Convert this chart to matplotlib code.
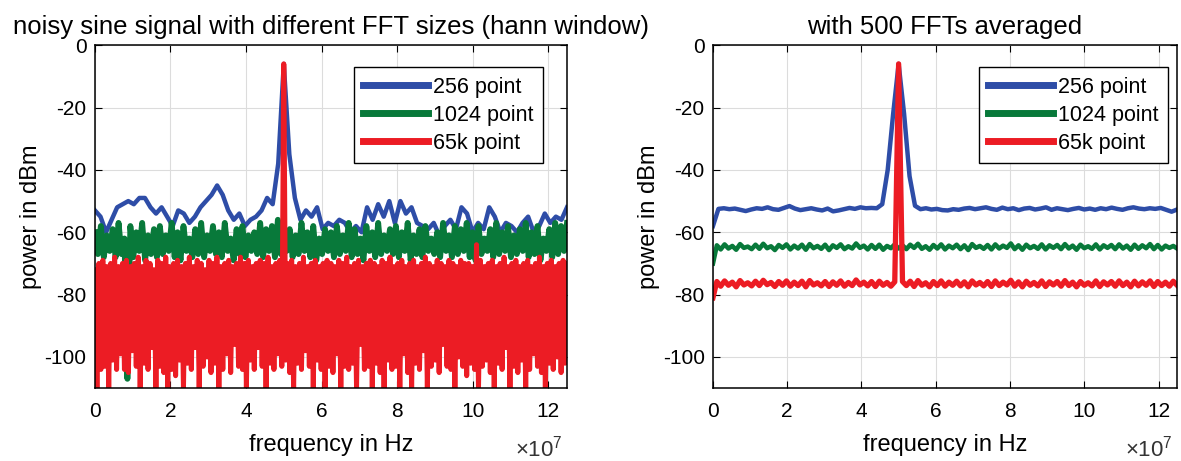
import numpy as np
import matplotlib
matplotlib.use("Agg")
from matplotlib import pyplot as plt

plt.rcParams['font.family'] = ['Liberation Sans', 'DejaVu Sans']
plt.rcParams['mathtext.fontset'] = 'custom'
plt.rcParams['mathtext.rm'] = 'Liberation Sans'
plt.rcParams['axes.unicode_minus'] = False

# colours of the three FFT sizes
c_blue = '#2E4DA7'
c_green = '#08793A'
c_red = '#EC1C24'
labels = ['256 point', '1024 point', '65k point']

# ---- left panel: single FFT (values in dBm) ----
blue_left = [-53, -55, -60, -56, -52, -51, -50, -51, -49, -49,
             -52, -54, -52, -55, -58, -53, -54, -57, -55, -52,
             -50, -48, -45, -48, -53, -56, -54, -58, -56, -55,
             -53, -49, -51, -38, -6, -35, -49, -56, -53, -55,
             -52, -59, -57, -58, -56, -57, -60, -58, -60, -52,
             -56, -51, -55, -50, -57, -50, -54, -52, -57, -58,
             -59, -57, -61, -58, -56, -59, -52, -54, -60, -57,
             -59, -52, -55, -60, -57, -58, -60, -57, -55, -60,
             -58, -54, -57, -55, -56, -52]

green_left = [-60, -67, -58, -68, -61, -66, -59, -68, -57, -67, -62, -107, -58, -68, -60, -66, -57, -69, -61, -67,
              -59, -68, -58, -67, -61, -66, -57, -68, -60, -69, -58, -66, -62, -68, -59, -67, -57, -68, -61, -66,
              -58, -67, -60, -68, -57, -66, -62, -69, -59, -67, -58, -68, -61, -66, -60, -67, -57, -68, -59, -66,
              -58, -68, -56, -67, -60, -66, -59, -68, -61, -67, -57, -66, -60, -68, -58, -69, -62, -67, -59, -66,
              -60, -68, -58, -67, -61, -66, -57, -68, -59, -67, -62, -69, -58, -66, -60, -68, -57, -67, -61, -66,
              -59, -67, -58, -68, -60, -66, -57, -69, -61, -67, -59, -68, -58, -66, -62, -67, -60, -68, -57, -66,
              -61, -68, -58, -67, -59, -66, -57, -68, -60, -69, -58, -67, -62, -66, -59, -68, -57, -67, -60, -66,
              -58, -68, -61, -67, -59, -66, -57, -68, -60, -67, -58, -69, -62, -66, -59, -68, -57, -67, -58, -66,
              -57]

red_left = [-72, -110, -70, -104, -69, -103, -71, -110, -70, -101, -68, -104, -71, -99, -70, -104, -69, -105, -71, -98,
            -70, -103, -68, -110, -71, -102, -69, -104, -70, -97, -72, -110, -69, -103, -70, -105, -68, -110, -71, -104,
            -70, -106, -69, -101, -71, -110, -70, -102, -68, -104, -71, -97, -69, -110, -70, -103, -72, -100, -69, -105,
            -70, -102, -68, -110, -71, -104, -70, -99, -69, -105, -71, -96, -70, -103, -68, -104, -70, -110, -69, -101,
            -71, -104, -70, -97, -69, -103, -70, -110, -68, -102, -71, -104, -70, -99, -69, -103, -6, -101, -70, -105,
            -69, -110, -71, -102, -70, -104, -68, -98, -71, -103, -70, -110, -69, -101, -71, -104, -70, -110, -69, -103,
            -70, -105, -71, -99, -69, -110, -70, -103, -68, -104, -71, -102, -70, -110, -69, -96, -71, -104, -70, -103,
            -69, -110, -70, -102, -71, -105, -69, -110, -70, -101, -68, -104, -71, -103, -70, -110, -69, -99, -71, -105,
            -70, -110, -69, -102, -71, -104, -70, -98, -68, -110, -70, -103, -71, -101, -69, -105, -70, -96, -71, -103,
            -69, -104, -70, -110, -71, -100, -69, -103, -70, -106, -70, -102, -71, -104, -64, -110, -69, -103, -71, -101,
            -70, -105, -69, -110, -71, -102, -70, -104, -68, -97, -71, -110, -70, -103, -69, -105, -71, -101, -70, -110,
            -69, -104, -71, -99, -70, -103, -68, -105, -71, -110, -70, -102, -69, -104, -71, -100, -70, -105, -69, -102,
            -70]

# ---- right panel: 500 FFTs averaged ----
blue_right = [-58, -52.5, -52.3, -52.6, -52.4, -52.8, -53.2, -52.7, -52.3, -52.5,
              -52.0, -52.6, -52.8, -52.2, -51.6, -52.4, -52.9, -52.6, -52.3, -52.7,
              -53.0, -52.4, -53.3, -53.0, -52.6, -52.2, -52.5, -52.0, -52.3, -52.2,
              -52.3, -51, -40, -22, -6, -22, -42, -51.5, -52.6, -52.3,
              -52.7, -52.5, -52.9, -53.0, -52.6, -52.8, -52.4, -52.2, -52.6, -52.3,
              -52.0, -52.5, -52.8, -52.1, -52.6, -52.3, -52.9, -52.4, -52.2, -52.7,
              -52.4, -52.0, -52.8, -52.3, -52.6, -52.9, -52.5, -52.2, -52.7, -52.4,
              -52.8, -52.3, -52.6, -52.1, -52.5, -52.8, -52.3, -52.0, -52.4, -52.6,
              -52.3, -52.5, -52.2, -52.8, -53.4, -52.7]

green_right = [-70, -64.2, -65.5, -63.9, -65.2, -64.4, -65.6, -63.8, -65.0, -64.6,
               -65.4, -64.0, -65.3, -63.7, -65.1, -64.5, -65.7, -64.1, -65.0, -63.9,
               -65.5, -64.3, -65.2, -64.0, -65.6, -63.8, -65.1, -64.4, -65.3, -64.0,
               -65.7, -64.2, -65.0, -63.9, -65.4, -64.5, -65.2, -63.6, -65.0, -64.3,
               -65.5, -64.1, -65.3, -64.0, -65.6, -64.4, -65.1, -63.9, -65.2, -64.2,
               -65.4, -64.0, -65.0, -63.7, -65.3, -64.5, -65.6, -64.1, -65.2, -63.9,
               -65.5, -64.3, -65.1, -64.0, -65.4, -64.2, -65.7, -63.8, -65.0, -64.4,
               -65.3, -64.1, -65.5, -63.9, -65.2, -64.3, -65.0, -63.6, -65.4, -64.2,
               -65.6, -64.0, -65.1, -64.4, -65.3, -63.9, -65.5, -64.2, -65.0, -64.1,
               -65.4, -63.8, -65.2, -64.3, -65.6, -64.0, -65.1, -64.5, -65.3, -63.9,
               -65.5, -64.2, -65.0, -64.1, -65.4, -63.9, -65.2, -64.3, -65.6, -64.0,
               -65.3, -64.2, -65.1, -63.8, -65.4, -64.1, -65.5, -64.3, -65.0, -64.4,
               -65.2]

red_right = [-81, -75.8, -77.3, -75.6, -77.0, -76.0, -77.5, -75.5, -76.9, -76.2,
             -77.2, -75.7, -77.1, -75.4, -76.8, -76.1, -77.4, -75.8, -77.0, -75.6,
             -77.3, -76.0, -77.1, -75.7, -77.5, -75.5, -76.9, -76.2, -77.2, -75.8,
             -77.4, -75.9, -77.0, -75.6, -77.3, -76.1, -77.1, -75.3, -76.9, -76.0,
             -77.2, -75.8, -77.4, -75.7, -77.0, -76.1, -77.3, -75.9, -6, -75.8,
             -77.1, -75.7, -77.4, -75.5, -77.0, -76.2, -77.5, -75.8, -77.1, -75.6,
             -77.3, -76.0, -77.0, -75.7, -77.2, -75.9, -77.5, -75.6, -76.9, -76.1,
             -77.2, -75.8, -77.4, -75.6, -77.1, -76.0, -76.9, -75.4, -77.3, -75.9,
             -77.5, -75.7, -77.0, -76.1, -77.2, -75.6, -77.4, -75.9, -76.9, -75.8,
             -77.3, -75.5, -77.1, -76.0, -77.5, -75.8, -77.0, -76.2, -77.2, -75.6,
             -77.4, -75.9, -76.9, -75.8, -77.3, -75.6, -77.1, -76.0, -77.5, -75.7,
             -77.2, -75.9, -77.0, -75.6, -77.4, -75.8, -77.1, -76.0, -77.3, -75.7,
             -77.0]

f_max = 1.25e8


def freq(vals):
    return np.linspace(0, f_max, len(vals))


def style_axes(ax, title, leg_x):
    ax.set_xlim(0, f_max)
    ax.set_ylim(-110, 0)
    ax.set_yticks([0, -20, -40, -60, -80, -100])
    ax.set_xticks(np.arange(0, 13, 2) * 1e7)
    ax.set_xticklabels([str(v) for v in range(0, 13, 2)])
    ax.grid(True, color='#DCDCDC', linewidth=0.8)
    ax.set_axisbelow(True)
    ax.tick_params(direction='in', top=True, right=True, length=5, width=0.8,
                   labelsize=15)
    ax.tick_params(axis='x', pad=10)
    ax.tick_params(axis='y', pad=6)
    for sp in ax.spines.values():
        sp.set_linewidth(1.1)
    ax.set_title(title, fontsize=18.5, pad=8)
    ax.set_xlabel('frequency in Hz', fontsize=17, labelpad=9)
    ax.set_ylabel('power in dBm', fontsize=17, labelpad=2)
    # exponent of the frequency axis, sits under the right end
    ax.text(0.99, -0.2, r'$\times\mathregular{10^7}$', transform=ax.transAxes,
            ha='right', va='baseline', fontsize=16, color='#333333')
    leg = ax.legend(loc='upper right', bbox_to_anchor=(leg_x, 0.935), fontsize=15.5,
                    handlelength=3.0, fancybox=False, edgecolor='black',
                    framealpha=1, borderpad=0.42, labelspacing=0.33, handletextpad=0.25,
                    borderaxespad=0)
    leg.get_frame().set_linewidth(1.0)
    for ln in leg.get_lines():
        ln.set_linewidth(5)


fig = plt.figure(figsize=(11.81, 4.61), dpi=100)
ax1 = fig.add_axes([0.0804, 0.158, 0.3997, 0.744])
ax2 = fig.add_axes([0.6037, 0.158, 0.393, 0.744])

ax1.plot(freq(blue_left), blue_left, color=c_blue, lw=3.2, label=labels[0])
ax1.plot(freq(green_left), green_left, color=c_green, lw=4.2, label=labels[1])
ax1.plot(freq(red_left), red_left, color=c_red, lw=3.6, label=labels[2])
style_axes(ax1, 'noisy sine signal with different FFT sizes (hann window)', 0.949)

ax2.plot(freq(blue_right), blue_right, color=c_blue, lw=3.2, label=labels[0])
ax2.plot(freq(green_right), green_right, color=c_green, lw=3.3, label=labels[1])
ax2.plot(freq(red_right), red_right, color=c_red, lw=3.8, label=labels[2])
style_axes(ax2, 'with 500 FFTs averaged', 0.98)

fig.savefig('out.png', dpi=100)
